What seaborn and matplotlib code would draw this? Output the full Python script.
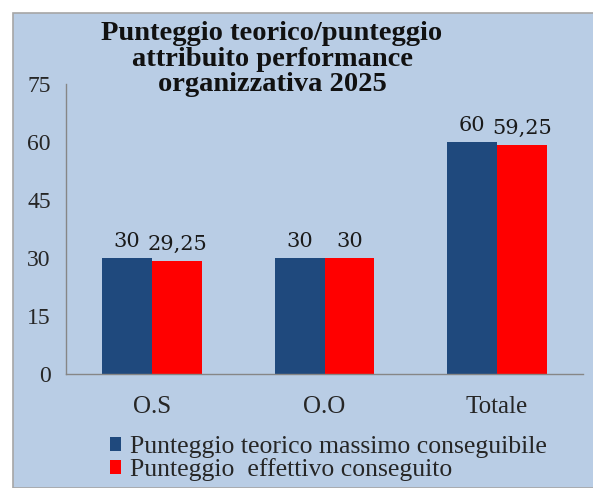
import pandas as pd
import numpy as np
import matplotlib.pyplot as plt
import seaborn as sns
from matplotlib.patches import Rectangle

# data
categories = ["O.S", "O.O", "Totale"]
series_names = ["Punteggio teorico massimo conseguibile", "Punteggio  effettivo conseguito"]
teorico = [30, 30, 60]
effettivo = [29.25, 30, 59.25]
y_ticks = [0, 15, 30, 45, 60, 75]

BG = "#b9cde5"
BLUE = "#1f497d"
RED = "#ff0000"
SERIF = ["Liberation Serif", "DejaVu Serif"]

df = pd.DataFrame({
    "categoria": categories * 2,
    "serie": [series_names[0]] * 3 + [series_names[1]] * 3,
    "valore": teorico + effettivo,
})

sns.set_style("white")
plt.rcParams["font.family"] = SERIF

fig = plt.figure(figsize=(5.93, 4.88), dpi=100)
fig.patch.set_facecolor("white")
# blue panel behind the chart
panel = Rectangle((13 / 593, 0.0), 1.0, 1 - 13 / 488, transform=fig.transFigure,
                  facecolor=BG, edgecolor="#a6a6a6", linewidth=1.2, zorder=-10)
fig.add_artist(panel)

ax = fig.add_axes([66 / 593, 1 - 374 / 488, 517 / 593, 290 / 488])
ax.set_facecolor("none")

sns.barplot(data=df, x="categoria", y="valore", hue="serie", palette=[BLUE, RED],
            width=0.58, saturation=1, ax=ax, errorbar=None, legend=True,
            linewidth=0)

def fmt(v):
    s = f"{v:g}"
    return s.replace(".", ",")

for cont in ax.containers:
    ax.bar_label(cont, labels=[fmt(b.get_height()) for b in cont], padding=5,
                 fontsize=15, color="#1a1a1a", family=["DejaVu Serif"])

ax.set_ylim(0, 75)
ax.set_yticks(y_ticks)
ax.set_xlim(-0.5, 2.5)
ax.set_xlabel("")
ax.set_ylabel("")
ax.set_xticks(range(len(categories)))
ax.set_xticklabels(categories, fontsize=18)
ax.set_xticks([-0.5, 0.5, 1.5, 2.5], minor=True)
ax.tick_params(axis="x", which="major", length=0, pad=16)
ax.tick_params(axis="x", which="minor", length=5, color="#868686", direction="out")
ax.tick_params(axis="y", length=6, color="#868686", direction="out", labelsize=17, pad=5)
for sp in ["top", "right"]:
    ax.spines[sp].set_visible(False)
for sp in ["left", "bottom"]:
    ax.spines[sp].set_color("#868686")
    ax.spines[sp].set_linewidth(1.0)

handles, labels = ax.get_legend_handles_labels()
ax.legend(handles, labels, loc="upper left", bbox_to_anchor=(97 / 593, 1 - 423 / 488),
          bbox_transform=fig.transFigure, frameon=False, fontsize=18.5,
          handlelength=0.45, handleheight=0.45, handletextpad=0.35, labelspacing=0.0,
          borderpad=0)

fig.text(272 / 593, 1 - 59 / 488,
         "Punteggio teorico/punteggio\nattribuito performance\norganizzativa 2025",
         ha="center", va="center", fontsize=20.5, fontweight="bold", linespacing=1.05,
         color="#111111")

fig.savefig("out.png", dpi=100, facecolor="white")
